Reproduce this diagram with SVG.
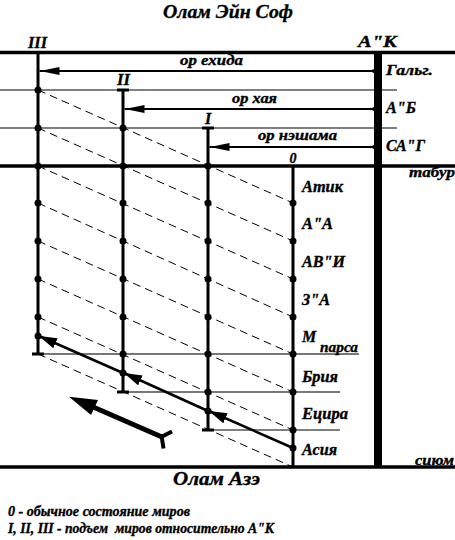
<svg xmlns="http://www.w3.org/2000/svg" width="455" height="540" viewBox="0 0 455 540">
<style>
text{font-family:"Liberation Serif","Times New Roman",serif;font-weight:bold;font-style:italic;fill:#000;stroke:#000;stroke-width:0.35}
.t{font-size:16px}
.s{font-size:15px}
.thick{stroke:#000;stroke-width:3.5;fill:none}
.thin{stroke:#000;stroke-width:1.2;fill:none}
.gray{stroke:#777;stroke-width:2;fill:none}
.vert{stroke:#000;stroke-width:3;fill:none}
.dash{stroke:#000;stroke-width:1;stroke-dasharray:8,5;fill:none}
.ray{stroke:#000;stroke-width:2;fill:none;marker-end:url(#ah)}
.sol{stroke:#000;stroke-width:2.5;fill:none;marker-end:url(#ah2)}
.dot{fill:#000}
</style>
<defs>
<marker id="ah" viewBox="0 0 20 8" refX="20" refY="4" markerWidth="20" markerHeight="8" markerUnits="userSpaceOnUse" orient="auto"><path d="M0,0 L20,4 L0,8 Z" fill="#000"/></marker>
<marker id="ah2" viewBox="0 0 18 11" refX="18" refY="5.5" markerWidth="18" markerHeight="11" markerUnits="userSpaceOnUse" orient="auto"><path d="M0,0 L18,5.5 L0,11 Z" fill="#000"/></marker>
</defs>
<g id="frame">
<line class="thick" x1="0" y1="52.5" x2="455" y2="52.5"/>
<line class="thin" x1="0" y1="90" x2="397" y2="90"/>
<line class="thin" x1="0" y1="128" x2="397" y2="128"/>
<line class="thick" x1="0" y1="166" x2="455" y2="166"/>
<line class="thick" x1="0" y1="467" x2="455" y2="467"/>
<line class="gray" x1="38" y1="354" x2="359" y2="354"/>
<line class="gray" x1="123" y1="392" x2="340" y2="392"/>
<line class="thin" x1="208" y1="430" x2="340" y2="430"/>
<line stroke="#000" stroke-width="8" x1="378" y1="52.5" x2="378" y2="467"/>
</g>
<g id="connectors">
<line class="dash" x1="38" y1="90" x2="293" y2="203"/>
<line class="dash" x1="38" y1="128" x2="293" y2="241"/>
<line class="dash" x1="38" y1="166" x2="293" y2="279"/>
<line class="dash" x1="38" y1="203" x2="293" y2="317"/>
<line class="dash" x1="38" y1="241" x2="293" y2="354"/>
<line class="dash" x1="38" y1="279" x2="293" y2="392"/>
<line class="dash" x1="38" y1="317" x2="293" y2="430"/>
<line class="dash" x1="38" y1="354" x2="293" y2="467"/>
<line class="ray" x1="375" y1="71" x2="39.5" y2="71"/>
<line class="ray" x1="375" y1="109" x2="124.5" y2="109"/>
<line class="ray" x1="375" y1="147" x2="209.5" y2="147"/>
<circle class="dot" cx="374" cy="71" r="2"/>
<circle class="dot" cx="374" cy="109" r="2"/>
<circle class="dot" cx="374" cy="147" r="2"/>
<line class="sol" x1="293" y1="448" x2="209" y2="411"/>
<line class="sol" x1="208" y1="411" x2="124" y2="373"/>
<line class="sol" x1="123" y1="373" x2="39" y2="336"/>
<line stroke="#000" stroke-width="5" x1="162" y1="437" x2="92" y2="406.5"/>
<path d="M69,396.7 L98,400 L91,415 Z" fill="#000"/>
<path d="M161.7,436.7 L172,431.5 M161.7,436.7 L163.5,448.5" stroke="#000" stroke-width="4" fill="none"/>
</g>
<g id="line-III">
<line class="vert" x1="38" y1="52.5" x2="38" y2="354"/>
<line class="vert" x1="32" y1="354" x2="44" y2="354"/>
<circle class="dot" cx="38" cy="90" r="3.5"/><circle class="dot" cx="38" cy="128" r="3.5"/><circle class="dot" cx="38" cy="166" r="3.5"/><circle class="dot" cx="38" cy="203" r="3.5"/><circle class="dot" cx="38" cy="241" r="3.5"/><circle class="dot" cx="38" cy="279" r="3.5"/><circle class="dot" cx="38" cy="317" r="3.5"/><circle class="dot" cx="38" cy="336" r="3.5"/>
<text class="t" x="28" y="48" textLength="19" lengthAdjust="spacingAndGlyphs">III</text>
</g>
<g id="line-II">
<line class="vert" x1="123" y1="90" x2="123" y2="392"/>
<line class="vert" x1="117" y1="90" x2="129" y2="90"/>
<line class="vert" x1="117" y1="392" x2="129" y2="392"/>
<circle class="dot" cx="123" cy="128" r="3.5"/><circle class="dot" cx="123" cy="166" r="3.5"/><circle class="dot" cx="123" cy="203" r="3.5"/><circle class="dot" cx="123" cy="241" r="3.5"/><circle class="dot" cx="123" cy="279" r="3.5"/><circle class="dot" cx="123" cy="317" r="3.5"/><circle class="dot" cx="123" cy="354" r="3.5"/><circle class="dot" cx="123" cy="373" r="3.5"/>
<text class="t" x="117" y="85" textLength="13" lengthAdjust="spacingAndGlyphs">II</text>
</g>
<g id="line-I">
<line class="vert" x1="208" y1="128" x2="208" y2="430"/>
<line class="vert" x1="202" y1="128" x2="214" y2="128"/>
<line class="vert" x1="202" y1="430" x2="214" y2="430"/>
<circle class="dot" cx="208" cy="166" r="3.5"/><circle class="dot" cx="208" cy="203" r="3.5"/><circle class="dot" cx="208" cy="241" r="3.5"/><circle class="dot" cx="208" cy="279" r="3.5"/><circle class="dot" cx="208" cy="317" r="3.5"/><circle class="dot" cx="208" cy="354" r="3.5"/><circle class="dot" cx="208" cy="392" r="3.5"/><circle class="dot" cx="208" cy="411" r="3.5"/>
<text class="t" x="208" y="124" text-anchor="middle">I</text>
</g>
<g id="line-0">
<line class="vert" x1="293" y1="166" x2="293" y2="467"/>
<circle class="dot" cx="293" cy="203" r="3.5"/><circle class="dot" cx="293" cy="241" r="3.5"/><circle class="dot" cx="293" cy="279" r="3.5"/><circle class="dot" cx="293" cy="317" r="3.5"/><circle class="dot" cx="293" cy="354" r="3.5"/><circle class="dot" cx="293" cy="392" r="3.5"/><circle class="dot" cx="293" cy="430" r="3.5"/><circle class="dot" cx="293" cy="448" r="3.5"/>
<text class="s" x="293" y="163" text-anchor="middle" style="font-size:14px">0</text>
</g>
<g id="labels">
<text x="163" y="18" style="font-size:19px" textLength="130" lengthAdjust="spacingAndGlyphs">Олам Эйн Соф</text>
<text x="358" y="47" style="font-size:17px" textLength="39" lengthAdjust="spacingAndGlyphs">А"К</text>
<text class="s" x="180" y="65" textLength="63" lengthAdjust="spacingAndGlyphs">ор ехида</text>
<text class="s" x="232" y="103" textLength="45" lengthAdjust="spacingAndGlyphs">ор хая</text>
<text class="s" x="258" y="140" textLength="79" lengthAdjust="spacingAndGlyphs">ор нэшама</text>
<text class="s" x="386" y="75" textLength="47" lengthAdjust="spacingAndGlyphs">Гальг.</text>
<text class="t" x="386" y="113" textLength="30" lengthAdjust="spacingAndGlyphs">А"Б</text>
<text class="t" x="386" y="151" textLength="39" lengthAdjust="spacingAndGlyphs">СА"Г</text>
<text class="s" x="409" y="177" textLength="46" lengthAdjust="spacingAndGlyphs">табур</text>
<text class="t" x="302" y="192" textLength="41" lengthAdjust="spacingAndGlyphs">Атик</text>
<text class="t" x="302" y="229" textLength="31" lengthAdjust="spacingAndGlyphs">А"А</text>
<text class="t" x="302" y="267" textLength="43" lengthAdjust="spacingAndGlyphs">АВ"И</text>
<text class="t" x="302" y="305" textLength="28" lengthAdjust="spacingAndGlyphs">З"А</text>
<text class="t" x="302" y="342">М</text>
<text class="s" x="320" y="352" textLength="38" lengthAdjust="spacingAndGlyphs">парса</text>
<text class="t" x="302" y="382" textLength="36" lengthAdjust="spacingAndGlyphs">Брия</text>
<text class="t" x="302" y="419" textLength="46" lengthAdjust="spacingAndGlyphs">Ецира</text>
<text class="t" x="302" y="455" textLength="35" lengthAdjust="spacingAndGlyphs">Асия</text>
<text class="s" x="415" y="465" textLength="39" lengthAdjust="spacingAndGlyphs">сиюм</text>
<text x="173" y="485" style="font-size:19px" textLength="87" lengthAdjust="spacingAndGlyphs">Олам Азэ</text>
<text class="s" x="8" y="516" textLength="182" lengthAdjust="spacingAndGlyphs">0 - обычное состояние миров</text>
<text class="s" x="8" y="533" xml:space="preserve" textLength="266" lengthAdjust="spacingAndGlyphs">I, II, III - подъем  миров относительно А"К</text>
</g>
</svg>
